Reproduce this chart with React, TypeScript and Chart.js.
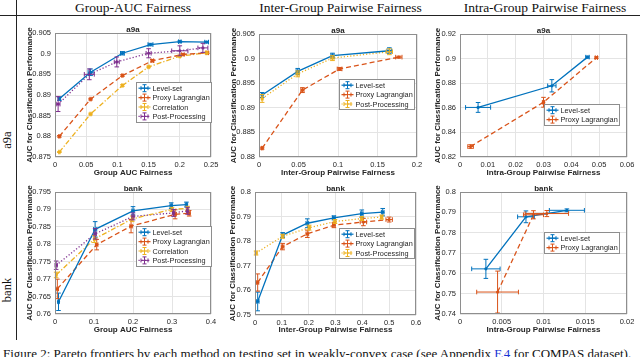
import React, { useEffect, useRef } from 'react';
import { Chart, registerables } from 'chart.js';
Chart.register(...registerables);

// ---------- colours / styles ----------
const BLUE = '#0072BD';
const ORANGE = '#D95319';
const YELLOW = '#EDB120';
const PURPLE = '#7E2F8E';
const SOLID: number[] = [];
const DASHED = [5, 3];
const DASHDOT = [5, 2, 1.2, 2];
const DOTTED = [1.2, 2];
const FONT = '"Liberation Sans", Arial, Helvetica, sans-serif';
const TEXT = '#262626';
const BOX = '#8e8e8e';
const GRID = '#e4e4e4';

// ---------- labels ----------
const LBL_LEVEL = 'Level-set';
const LBL_PROXY = 'Proxy Lagrangian';
const LBL_CORR = 'Correlation';
const LBL_POST = 'Post-Processing';
const Y_TITLE = 'AUC for Classification Performance';
const X_TITLE_GROUP = 'Group AUC Fairness';
const X_TITLE_INTER = 'Inter-Group Pairwise Fairness';
const X_TITLE_INTRA = 'Intra-Group Pairwise Fairness';
const COL_HEADERS = ['Group-AUC Fairness', 'Inter-Group Pairwise Fairness', 'Intra-Group Pairwise Fairness'];
const ROW_LABELS = ['a9a', 'bank'];

// ---------- tick labels ----------
const p1XTicks = ['0', '0.05', '0.1', '0.15', '0.2', '0.25'];
const p1YTicks = ['0.875', '0.88', '0.885', '0.89', '0.895', '0.9', '0.905'];
const p2XTicks = ['0', '0.05', '0.1', '0.15', '0.2'];
const p2YTicks = ['0.88', '0.885', '0.89', '0.895', '0.9', '0.905'];
const p3XTicks = ['0', '0.01', '0.02', '0.03', '0.04', '0.05', '0.06'];
const p3YTicks = ['0.82', '0.84', '0.86', '0.88', '0.9', '0.92'];
const p4XTicks = ['0', '0.1', '0.2', '0.3', '0.4'];
const p4YTicks = ['0.76', '0.765', '0.77', '0.775', '0.78', '0.785', '0.79', '0.795'];
const p5XTicks = ['0', '0.1', '0.2', '0.3', '0.4', '0.5', '0.6'];
const p5YTicks = ['0.75', '0.76', '0.77', '0.78', '0.79', '0.8'];
const p6XTicks = ['0', '0.005', '0.01', '0.015', '0.02'];
const p6YTicks = ['0.74', '0.75', '0.76', '0.77', '0.78', '0.79', '0.8'];

// ---------- data: a9a, Group AUC ----------
const p1LevelX = [0.007, 0.057, 0.108, 0.153, 0.2, 0.243];
const p1LevelY = [0.8891, 0.8955, 0.9001, 0.9022, 0.9029, 0.9028];
const p1LevelXErr = [0.002, 0.004, 0.003, 0.004, 0.002, 0.003];
const p1LevelYErr = [0.0004, 0.0008, 0.0004, 0.0003, 0.0002, 0.0002];
const p1ProxyX = [0.007, 0.057, 0.108, 0.156, 0.205, 0.244];
const p1ProxyY = [0.88, 0.889, 0.8947, 0.8983, 0.8998, 0.9002];
const p1ProxyXErr = [0.001, 0.001, 0.001, 0.002, 0.002, 0.002];
const p1ProxyYErr = [0.0002, 0.0002, 0.0002, 0.0003, 0.0002, 0.0002];
const p1CorrX = [0.007, 0.057, 0.108, 0.15, 0.2, 0.243];
const p1CorrY = [0.8762, 0.8854, 0.8923, 0.8968, 0.8994, 0.9002];
const p1CorrXErr = [0.001, 0.001, 0.001, 0.001, 0.001, 0.001];
const p1CorrYErr = [0.0001, 0.0002, 0.0002, 0.0002, 0.0002, 0.0002];
const p1PostX = [0.005, 0.055, 0.099, 0.15, 0.2, 0.237];
const p1PostY = [0.8878, 0.895, 0.898, 0.9001, 0.9007, 0.9014];
const p1PostXErr = [0.003, 0.008, 0.004, 0.004, 0.013, 0.008];
const p1PostYErr = [0.0018, 0.0013, 0.0012, 0.0011, 0.0012, 0.0011];

// ---------- data: a9a, Inter-group ----------
const p2LevelX = [0.004, 0.049, 0.093, 0.165];
const p2LevelY = [0.8926, 0.8974, 0.9006, 0.9016];
const p2LevelXErr = [0.001, 0.002, 0.002, 0.003];
const p2LevelYErr = [0.0005, 0.0006, 0.0005, 0.0006];
const p2ProxyX = [0.004, 0.055, 0.102, 0.177];
const p2ProxyY = [0.8818, 0.8936, 0.8979, 0.9003];
const p2ProxyXErr = [0.001, 0.002, 0.003, 0.004];
const p2ProxyYErr = [0.0002, 0.0005, 0.0003, 0.0002];
const p2PostX = [0.004, 0.049, 0.093, 0.165];
const p2PostY = [0.8919, 0.8969, 0.9001, 0.9014];
const p2PostXErr = [0.001, 0.002, 0.002, 0.004];
const p2PostYErr = [0.0008, 0.0006, 0.0005, 0.0006];

// ---------- data: a9a, Intra-group ----------
const p3LevelX = [0.0065, 0.033, 0.0458];
const p3LevelY = [0.8603, 0.8779, 0.9012];
const p3LevelXErr = [0.0045, 0.0015, 0.0006];
const p3LevelYErr = [0.004, 0.005, 0.0008];
const p3ProxyX = [0.0038, 0.03, 0.049];
const p3ProxyY = [0.8285, 0.8645, 0.9008];
const p3ProxyXErr = [0.001, 0.0004, 0.0004];
const p3ProxyYErr = [0.0015, 0.004, 0.0006];

// ---------- data: bank, Group AUC ----------
const p4LevelX = [0.009, 0.103, 0.2, 0.298, 0.337];
const p4LevelY = [0.7635, 0.7843, 0.7896, 0.7911, 0.7914];
const p4LevelXErr = [0.002, 0.004, 0.003, 0.003, 0.003];
const p4LevelYErr = [0.0025, 0.0022, 0.0012, 0.0008, 0.0007];
const p4ProxyX = [0.006, 0.107, 0.195, 0.308, 0.344];
const p4ProxyY = [0.7672, 0.7799, 0.7852, 0.7886, 0.7889];
const p4ProxyXErr = [0.003, 0.003, 0.003, 0.003, 0.003];
const p4ProxyYErr = [0.0028, 0.0015, 0.0019, 0.0013, 0.0008];
const p4CorrX = [0.003, 0.101, 0.198, 0.3, 0.34];
const p4CorrY = [0.7712, 0.7815, 0.7873, 0.79, 0.7903];
const p4CorrXErr = [0.002, 0.002, 0.002, 0.002, 0.002];
const p4CorrYErr = [0.0008, 0.001, 0.0008, 0.0006, 0.0006];
const p4PostX = [0.003, 0.103, 0.2, 0.304, 0.34];
const p4PostY = [0.774, 0.783, 0.788, 0.789, 0.7896];
const p4PostXErr = [0.003, 0.003, 0.003, 0.003, 0.003];
const p4PostYErr = [0.0012, 0.0015, 0.001, 0.001, 0.001];

// ---------- data: bank, Inter-group ----------
const p5LevelX = [0.01, 0.103, 0.195, 0.294, 0.398, 0.476];
const p5LevelY = [0.7555, 0.7825, 0.7873, 0.7895, 0.7912, 0.7918];
const p5LevelXErr = [0.005, 0.005, 0.005, 0.005, 0.005, 0.005];
const p5LevelYErr = [0.0038, 0.001, 0.0018, 0.0008, 0.0015, 0.0015];
const p5ProxyX = [0.01, 0.103, 0.195, 0.294, 0.404, 0.5];
const p5ProxyY = [0.7632, 0.7778, 0.783, 0.7865, 0.7878, 0.7888];
const p5ProxyXErr = [0.004, 0.005, 0.005, 0.005, 0.012, 0.012];
const p5ProxyYErr = [0.0035, 0.0013, 0.0015, 0.001, 0.0015, 0.001];
const p5PostX = [0.004, 0.103, 0.202, 0.298, 0.398, 0.472];
const p5PostY = [0.7752, 0.782, 0.7855, 0.788, 0.7892, 0.7898];
const p5PostXErr = [0.004, 0.004, 0.004, 0.004, 0.004, 0.004];
const p5PostYErr = [0.0008, 0.0008, 0.001, 0.0008, 0.0008, 0.0008];

// ---------- data: bank, Intra-group ----------
const p6LevelX = [0.0031, 0.0079, 0.0128];
const p6LevelY = [0.7622, 0.7878, 0.791];
const p6LevelXErr = [0.0017, 0.001, 0.0021];
const p6LevelYErr = [0.0047, 0.0029, 0.0007];
const p6ProxyX = [0.0045, 0.0088, 0.0104];
const p6ProxyY = [0.7508, 0.7888, 0.7894];
const p6ProxyXErr = [0.0025, 0.0012, 0.0026];
const p6ProxyYErr = [0.0103, 0.002, 0.0015];

type Series = {
  label: string; color: string; dash: number[];
  x: number[]; y: number[]; xErr: number[]; yErr: number[];
};
type Area = { l: number; r: number; t: number; b: number };
type PlotDef = {
  id: string; title: string; xTitle: string; xTicks: string[]; yTicks: string[];
  series: Series[]; area: Area; yTitleDist: number; xTitleDist: number;
  legend: { right: number; top: number };
};

const ser = (label: string, color: string, dash: number[], x: number[], y: number[], xErr: number[], yErr: number[]): Series =>
  ({ label, color, dash, x, y, xErr, yErr });

const PLOTS: PlotDef[] = [
  {
    id: 'p1', title: ROW_LABELS[0], xTitle: X_TITLE_GROUP, xTicks: p1XTicks, yTicks: p1YTicks,
    series: [
      ser(LBL_LEVEL, BLUE, SOLID, p1LevelX, p1LevelY, p1LevelXErr, p1LevelYErr),
      ser(LBL_PROXY, ORANGE, DASHED, p1ProxyX, p1ProxyY, p1ProxyXErr, p1ProxyYErr),
      ser(LBL_CORR, YELLOW, DASHDOT, p1CorrX, p1CorrY, p1CorrXErr, p1CorrYErr),
      ser(LBL_POST, PURPLE, DOTTED, p1PostX, p1PostY, p1PostXErr, p1PostYErr),
    ],
    area: { l: 55, r: 211, t: 33, b: 157 }, yTitleDist: 25.5, xTitleDist: 16.5, legend: { right: 0.5, top: 49 },
  },
  {
    id: 'p2', title: ROW_LABELS[0], xTitle: X_TITLE_INTER, xTicks: p2XTicks, yTicks: p2YTicks,
    series: [
      ser(LBL_LEVEL, BLUE, SOLID, p2LevelX, p2LevelY, p2LevelXErr, p2LevelYErr),
      ser(LBL_PROXY, ORANGE, DASHED, p2ProxyX, p2ProxyY, p2ProxyXErr, p2ProxyYErr),
      ser(LBL_POST, YELLOW, DOTTED, p2PostX, p2PostY, p2PostXErr, p2PostYErr),
    ],
    area: { l: 259, r: 417, t: 34, b: 157 }, yTitleDist: 25.5, xTitleDist: 16.5, legend: { right: 3, top: 45 },
  },
  {
    id: 'p3', title: ROW_LABELS[0], xTitle: X_TITLE_INTRA, xTicks: p3XTicks, yTicks: p3YTicks,
    series: [
      ser(LBL_LEVEL, BLUE, SOLID, p3LevelX, p3LevelY, p3LevelXErr, p3LevelYErr),
      ser(LBL_PROXY, ORANGE, DASHED, p3ProxyX, p3ProxyY, p3ProxyXErr, p3ProxyYErr),
    ],
    area: { l: 460, r: 627, t: 34, b: 157 }, yTitleDist: 22.5, xTitleDist: 16.5, legend: { right: 8, top: 70 },
  },
  {
    id: 'p4', title: ROW_LABELS[1], xTitle: X_TITLE_GROUP, xTicks: p4XTicks, yTicks: p4YTicks,
    series: [
      ser(LBL_LEVEL, BLUE, SOLID, p4LevelX, p4LevelY, p4LevelXErr, p4LevelYErr),
      ser(LBL_PROXY, ORANGE, DASHED, p4ProxyX, p4ProxyY, p4ProxyXErr, p4ProxyYErr),
      ser(LBL_CORR, YELLOW, DASHDOT, p4CorrX, p4CorrY, p4CorrXErr, p4CorrYErr),
      ser(LBL_POST, PURPLE, DOTTED, p4PostX, p4PostY, p4PostXErr, p4PostYErr),
    ],
    area: { l: 55, r: 211, t: 192, b: 314 }, yTitleDist: 25.5, xTitleDist: 16, legend: { right: 0.5, top: 34 },
  },
  {
    id: 'p5', title: ROW_LABELS[1], xTitle: X_TITLE_INTER, xTicks: p5XTicks, yTicks: p5YTicks,
    series: [
      ser(LBL_LEVEL, BLUE, SOLID, p5LevelX, p5LevelY, p5LevelXErr, p5LevelYErr),
      ser(LBL_PROXY, ORANGE, DASHED, p5ProxyX, p5ProxyY, p5ProxyXErr, p5ProxyYErr),
      ser(LBL_POST, YELLOW, DOTTED, p5PostX, p5PostY, p5PostXErr, p5PostYErr),
    ],
    area: { l: 255, r: 416, t: 192, b: 315 }, yTitleDist: 22, xTitleDist: 15.5, legend: { right: 2, top: 36 },
  },
  {
    id: 'p6', title: ROW_LABELS[1], xTitle: X_TITLE_INTRA, xTicks: p6XTicks, yTicks: p6YTicks,
    series: [
      ser(LBL_LEVEL, BLUE, SOLID, p6LevelX, p6LevelY, p6LevelXErr, p6LevelYErr),
      ser(LBL_PROXY, ORANGE, DASHED, p6ProxyX, p6ProxyY, p6ProxyXErr, p6ProxyYErr),
    ],
    area: { l: 460, r: 627, t: 192, b: 314 }, yTitleDist: 22, xTitleDist: 16, legend: { right: 8, top: 40 },
  },
];

const PAD_TOP = 14;
const PAD_RIGHT = 12;
const HALF_LH = 4.8; // half line height of 8px axis titles
const CAP = 2.3;

function canvasBox(p: PlotDef) {
  const left = Math.round(p.area.l - p.yTitleDist - HALF_LH);
  const top = Math.round(p.area.t - PAD_TOP);
  const right = Math.round(p.area.r + PAD_RIGHT);
  const bottom = Math.round(p.area.b + p.xTitleDist + HALF_LH);
  return {
    left, top, width: right - left, height: bottom - top,
    yW: p.area.l - left, xH: bottom - p.area.b, padTop: p.area.t - top, padRight: right - p.area.r,
  };
}

function strokeSeg(ctx: CanvasRenderingContext2D, x1: number, y1: number, x2: number, y2: number) {
  ctx.moveTo(x1, y1); ctx.lineTo(x2, y2);
}

function decorPlugin(p: PlotDef) {
  return {
    id: 'decor_' + p.id,
    afterDatasetsDraw(chart: any) {
      const ctx: CanvasRenderingContext2D = chart.ctx;
      const xs = chart.scales.x; const ys = chart.scales.y; const a = chart.chartArea;
      ctx.save();
      // error bars
      p.series.forEach((s) => {
        ctx.strokeStyle = s.color; ctx.lineWidth = 1; ctx.setLineDash([]);
        s.x.forEach((xv, j) => {
          const yv = s.y[j];
          const px = xs.getPixelForValue(xv); const py = ys.getPixelForValue(yv);
          const y1 = ys.getPixelForValue(yv - s.yErr[j]); const y2 = ys.getPixelForValue(yv + s.yErr[j]);
          const x1 = xs.getPixelForValue(xv - s.xErr[j]); const x2 = xs.getPixelForValue(xv + s.xErr[j]);
          ctx.beginPath();
          strokeSeg(ctx, px, y1, px, y2);
          strokeSeg(ctx, px - CAP, y1, px + CAP, y1);
          strokeSeg(ctx, px - CAP, y2, px + CAP, y2);
          strokeSeg(ctx, x1, py, x2, py);
          strokeSeg(ctx, x1, py - CAP, x1, py + CAP);
          strokeSeg(ctx, x2, py - CAP, x2, py + CAP);
          ctx.stroke();
        });
      });
      // axes box
      const L = Math.round(a.left) + 0.5, T = Math.round(a.top) + 0.5;
      const R = Math.round(a.right) - 0.5, B = Math.round(a.bottom) - 0.5;
      ctx.strokeStyle = BOX; ctx.lineWidth = 1;
      ctx.strokeRect(L, T, R - L, B - T);
      // subplot title
      ctx.fillStyle = TEXT; ctx.font = `bold 8px ${FONT}`;
      ctx.textAlign = 'center'; ctx.textBaseline = 'alphabetic';
      ctx.fillText(p.title, (a.left + a.right) / 2, a.top - 1.5);
      // legend
      ctx.font = `7.3px ${FONT}`;
      const tw = Math.max(...p.series.map((s) => ctx.measureText(s.label).width));
      const rowH = 9.4;
      const w = Math.round(16 + tw + 2);
      const h = Math.round(p.series.length * rowH + 2);
      const bx = Math.round(a.right - p.legend.right - w) + 0.5;
      const by = Math.round(a.top + p.legend.top) + 0.5;
      ctx.fillStyle = '#ffffff'; ctx.fillRect(bx, by, w, h);
      ctx.strokeStyle = BOX; ctx.strokeRect(bx, by, w, h);
      p.series.forEach((s, i) => {
        const cy = by + 1 + rowH * (i + 0.5);
        ctx.strokeStyle = s.color; ctx.lineWidth = 1.2; ctx.setLineDash(s.dash);
        ctx.beginPath(); strokeSeg(ctx, bx + 2, cy, bx + 14, cy); ctx.stroke();
        ctx.setLineDash([]); ctx.lineWidth = 1;
        const cx = bx + 8;
        ctx.beginPath();
        strokeSeg(ctx, cx, cy - 3.5, cx, cy + 3.5);
        strokeSeg(ctx, cx - 2, cy - 3.5, cx + 2, cy - 3.5);
        strokeSeg(ctx, cx - 2, cy + 3.5, cx + 2, cy + 3.5);
        strokeSeg(ctx, cx - 3.5, cy, cx + 3.5, cy);
        strokeSeg(ctx, cx - 3.5, cy - 2, cx - 3.5, cy + 2);
        strokeSeg(ctx, cx + 3.5, cy - 2, cx + 3.5, cy + 2);
        ctx.stroke();
        ctx.fillStyle = TEXT; ctx.textAlign = 'left'; ctx.textBaseline = 'middle';
        ctx.fillText(s.label, bx + 16, cy + 0.5);
      });
      ctx.restore();
    },
  };
}

function axisOpts(labels: string[], title: string, fit: (s: any) => void, padding: number) {
  const vals = labels.map(Number);
  return {
    type: 'linear' as const,
    min: vals[0],
    max: vals[vals.length - 1],
    afterBuildTicks: (axis: any) => { axis.ticks = vals.map((v) => ({ value: v })); },
    afterFit: fit,
    ticks: {
      autoSkip: false, maxRotation: 0, minRotation: 0, padding,
      color: TEXT, font: { family: FONT, size: 7.5 },
      callback: (v: any) => {
        const i = vals.findIndex((t) => Math.abs(t - Number(v)) < 1e-9);
        return i >= 0 ? labels[i] : '';
      },
    },
    grid: { color: GRID, lineWidth: 1, drawTicks: false },
    border: { display: false },
    title: { display: true, text: title, color: TEXT, padding: 0, font: { family: FONT, size: 8, weight: 'bold' as const, lineHeight: 1.2 } },
  };
}

function PlotCanvas({ def }: { def: PlotDef }) {
  const ref = useRef<HTMLCanvasElement>(null);
  const box = canvasBox(def);
  useEffect(() => {
    const chart = new Chart(ref.current as HTMLCanvasElement, {
      type: 'scatter',
      data: {
        datasets: def.series.map((s) => ({
          label: s.label,
          data: s.x.map((x, i) => ({ x, y: s.y[i] })),
          showLine: true,
          borderColor: s.color,
          backgroundColor: s.color,
          borderWidth: 1.3,
          borderDash: s.dash,
          pointRadius: 1.6,
          pointBorderWidth: 0,
          pointBackgroundColor: s.color,
          tension: 0,
          fill: false,
        })),
      },
      options: {
        responsive: false,
        animation: false,
        devicePixelRatio: 1,
        layout: { padding: { top: box.padTop, right: box.padRight, left: 0, bottom: 0 } },
        plugins: { legend: { display: false }, tooltip: { enabled: false }, title: { display: false } },
        scales: {
          x: axisOpts(def.xTicks, def.xTitle, (s: any) => { s.height = box.xH; }, 3),
          y: axisOpts(def.yTicks, Y_TITLE, (s: any) => { s.width = box.yW; }, 4),
        },
      } as any,
      plugins: [decorPlugin(def)],
    });
    return () => chart.destroy();
  }, []);
  return (
    <canvas
      ref={ref}
      width={box.width}
      height={box.height}
      style={{ position: 'absolute', left: box.left, top: box.top, width: box.width, height: box.height }}
    />
  );
}

const HEADER_X = [133, 340.5, 545];
const ROW_Y = [140, 290];

export default function App() {
  const serif = '"Liberation Serif", "Times New Roman", Times, serif';
  return (
    <div style={{ position: 'fixed', left: 0, top: 0, width: 640, height: 357, background: '#fff', overflow: 'hidden', fontFamily: serif, color: '#111' }}>
      {COL_HEADERS.map((h, i) => (
        <div key={h} style={{ position: 'absolute', left: HEADER_X[i] - 120, width: 240, top: 1, textAlign: 'center', fontSize: 13.5, lineHeight: '14px', whiteSpace: 'nowrap' }}>{h}</div>
      ))}
      <div style={{ position: 'absolute', left: 0, top: 15, width: 640, height: 1, background: '#222' }} />
      <div style={{ position: 'absolute', left: 16, top: 0, width: 1, height: 340, background: '#222' }} />
      {ROW_LABELS.map((r, i) => (
        <div key={r} style={{ position: 'absolute', left: 7 - 40, width: 80, top: ROW_Y[i] - 7, height: 14, lineHeight: '14px', textAlign: 'center', fontSize: 12.5, transform: 'rotate(-90deg)', whiteSpace: 'nowrap' }}>{r}</div>
      ))}
      {PLOTS.map((p) => <PlotCanvas key={p.id} def={p} />)}
      <div style={{ position: 'absolute', left: 3, top: 346.5, fontSize: 13, lineHeight: '13px', whiteSpace: 'nowrap' }}>
        Figure 2: Pareto frontiers by each method on testing set in weakly-convex case (see Appendix <span style={{ color: '#1a35d4' }}>F.4</span> for COMPAS dataset).
      </div>
    </div>
  );
}
